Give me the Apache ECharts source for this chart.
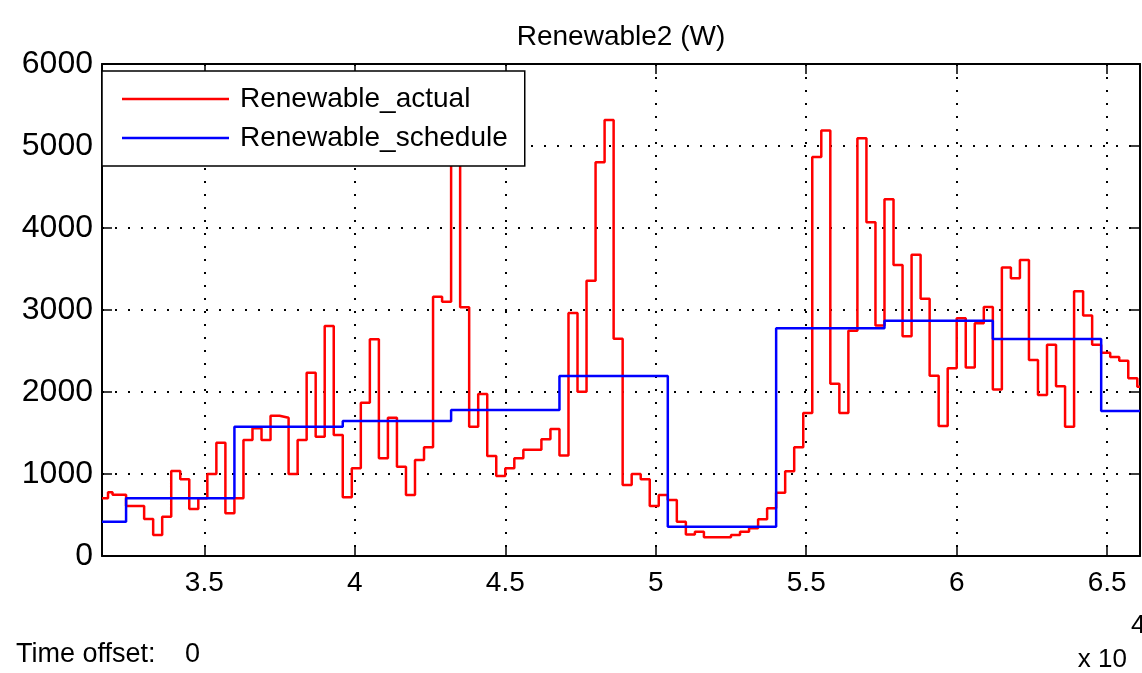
<!DOCTYPE html>
<html>
<head>
<meta charset="utf-8">
<script src="https://cdn.jsdelivr.net/npm/echarts@6/dist/echarts.min.js"></script>
<style>
html,body{margin:0;padding:0;background:#fff;}
#chart{width:1142px;height:673px;}
</style>
</head>
<body>
<div id="chart"></div>
<script>
// ---- data (time in seconds, power in W) ----
const xMin = 31600;
const xMax = 66090;
const xTickValues = [35000, 40000, 45000, 50000, 55000, 60000, 65000];
const yTickValues = [0, 1000, 2000, 3000, 4000, 5000, 6000];

const actualTimes = [31600, 31800, 31950, 32400, 33000, 33300, 33600, 33900, 34200, 34500,
  34800, 35100, 35400, 35700, 36000, 36300, 36600, 36900, 37200, 37500,
  37800, 38100, 38400, 38700, 39000, 39300, 39600, 39900, 40200, 40500,
  40800, 41100, 41400, 41700, 42000, 42300, 42600, 42900, 43200, 43500,
  43800, 44100, 44400, 44700, 45000, 45300, 45600, 46200, 46500, 46800,
  47100, 47400, 47700, 48000, 48300, 48600, 48900, 49200, 49500, 49800,
  50100, 50400, 50700, 51000, 51300, 51600, 52500, 52800, 53100, 53400,
  53700, 54000, 54300, 54600, 54900, 55200, 55500, 55800, 56100, 56400,
  56700, 57000, 57300, 57600, 57900, 58200, 58500, 58800, 59100, 59400,
  59700, 60000, 60300, 60600, 60900, 61200, 61500, 61800, 62100, 62400,
  62700, 63000, 63300, 63600, 63900, 64200, 64500, 64800, 65100, 65400,
  65700, 66000, 66090];
const actualValues = [704, 777, 748, 610, 451, 256, 480, 1037, 935, 573,
  704, 1000, 1382, 520, 704, 1415, 1557, 1415, 1711, 1687,
  1000, 1415, 2236, 1455, 2805, 1476, 716, 1069, 1870, 2642,
  1191, 1687, 1089, 744, 1171, 1325, 3163, 3102, 5400, 3033,
  1577, 1976, 1220, 976, 1069, 1191, 1297, 1423, 1550, 1226,
  2963, 2004, 3356, 4803, 5317, 2648, 866, 1000, 935, 610,
  744, 683, 419, 262, 297, 228, 256, 297, 337, 447,
  581, 772, 1035, 1325, 1745, 4866, 5190, 2102, 1745, 2748,
  5093, 4070, 2810, 4350, 3549, 2680, 3675, 3136, 2197, 1585,
  2289, 2900, 2300, 2837, 3037, 2030, 3518, 3386, 3610, 2390,
  1963, 2577, 2070, 1577, 3228, 2933, 2577, 2480, 2427, 2382,
  2167, 2065, 2065];

const scheduleTimes = [31600, 32400, 36000, 39600, 43200, 46800, 50400, 54000, 57600, 61200, 64800, 66090];
const scheduleValues = [419, 704, 1577, 1646, 1780, 2195, 357, 2776, 2870, 2646, 1768, 1768];

// ---- chart ----
const FONT = 'Liberation Sans';
const chart = echarts.init(document.getElementById('chart'), null, {renderer: 'canvas'});
const dotted = {color: '#000', width: 2, type: [2, 11]};
const frame = {color: '#000', width: 2};
// plain horizontal line icon (tiny corner specks keep the bar thin when the icon is stretched)
const lineIcon = 'path://M0,0h0.05v0.05h-0.05zM0,12.75h107v2.5h-107zM0,27.95h0.05v0.05h-0.05z';

const option = {
  animation: false,
  backgroundColor: '#fff',
  grid: {left: 102, right: 2, top: 64, bottom: 117, containLabel: false},
  legend: {
    orient: 'vertical', left: 102, top: 71,
    backgroundColor: '#fff', borderColor: '#000', borderWidth: 1.5,
    padding: [14, 17, 14, 20], itemGap: 11, itemWidth: 107, itemHeight: 28,
    icon: lineIcon,
    textStyle: {fontFamily: FONT, fontSize: 28, color: '#000', padding: [0, 0, 0, 6]},
    data: ['Renewable_actual', 'Renewable_schedule']
  },
  xAxis: [{
    type: 'value', position: 'bottom', min: xMin, max: xMax,
    axisLine: {show: true, onZero: false, lineStyle: frame},
    axisTick: {show: true, inside: true, length: 10, customValues: xTickValues, lineStyle: {color: '#000', width: 1.5}},
    axisLabel: {show: true, customValues: xTickValues, margin: 13, color: '#000', fontFamily: FONT, fontSize: 28,
      formatter: v => String(v / 10000)},
    splitLine: {show: true, lineStyle: dotted}
  }, {
    type: 'value', position: 'top', min: xMin, max: xMax,
    axisLine: {show: true, onZero: false, lineStyle: frame},
    axisTick: {show: true, inside: true, length: 10, customValues: xTickValues, lineStyle: {color: '#000', width: 1.5}},
    axisLabel: {show: false},
    splitLine: {show: false}
  }],
  yAxis: [{
    type: 'value', position: 'left', min: 0, max: 6000, interval: 1000,
    axisLine: {show: true, onZero: false, lineStyle: frame},
    axisTick: {show: true, inside: true, length: 10, lineStyle: {color: '#000', width: 1.5}},
    axisLabel: {show: true, margin: 9, color: '#000', fontFamily: FONT, fontSize: 32,
      formatter: v => yTickValues.indexOf(v) >= 0 ? String(v) : ''},
    splitLine: {show: true, lineStyle: dotted}
  }, {
    type: 'value', position: 'right', min: 0, max: 6000, interval: 1000,
    axisLine: {show: true, onZero: false, lineStyle: frame},
    axisTick: {show: true, inside: true, length: 10, lineStyle: {color: '#000', width: 1.5}},
    axisLabel: {show: false},
    splitLine: {show: false}
  }],
  series: [{
    name: 'Renewable_actual', type: 'line', step: 'end', symbol: 'none',
    xAxisIndex: 0, yAxisIndex: 0, color: '#ff0000',
    lineStyle: {color: '#ff0000', width: 2.5},
    data: actualTimes.map((t, i) => [t, actualValues[i]])
  }, {
    name: 'Renewable_schedule', type: 'line', step: 'end', symbol: 'none',
    xAxisIndex: 0, yAxisIndex: 0, color: '#0000ff',
    lineStyle: {color: '#0000ff', width: 2.5},
    data: scheduleTimes.map((t, i) => [t, scheduleValues[i]])
  }],
  graphic: [
    {type: 'text', x: 621, y: 37, z: 10, style: {text: 'Renewable2 (W)', fontFamily: FONT, fontSize: 28, fill: '#000', textAlign: 'center', textVerticalAlign: 'middle'}},
    {type: 'text', x: 16, y: 655, z: 10, style: {text: 'Time offset:', fontFamily: FONT, fontSize: 27, fill: '#000', textAlign: 'left', textVerticalAlign: 'middle'}},
    {type: 'text', x: 185, y: 655, z: 10, style: {text: '0', fontFamily: FONT, fontSize: 27, fill: '#000', textAlign: 'left', textVerticalAlign: 'middle'}},
    {type: 'text', x: 1127, y: 660, z: 10, style: {text: 'x 10', fontFamily: FONT, fontSize: 26, fill: '#000', textAlign: 'right', textVerticalAlign: 'middle'}},
    {type: 'text', x: 1131, y: 626, z: 10, style: {text: '4', fontFamily: FONT, fontSize: 26, fill: '#000', textAlign: 'left', textVerticalAlign: 'middle'}}
  ]
};
chart.setOption(option);
</script>
</body>
</html>
